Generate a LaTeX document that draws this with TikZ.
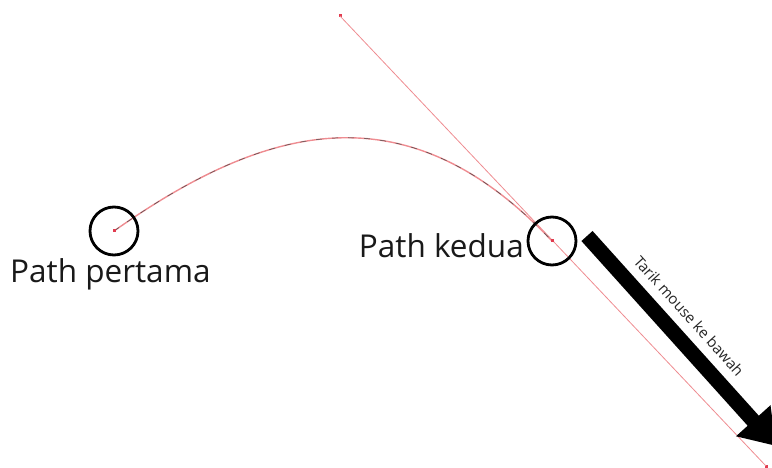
\documentclass[tikz,border=0pt]{standalone}
\usepackage{fontspec}
\setmainfont{Open Sans}
\usetikzlibrary{arrows.meta}
\definecolor{pinkline}{RGB}{238,140,145}
\definecolor{dotred}{RGB}{225,60,80}
\tikzset{
  handle/.style={draw=pinkline, line width=0.8pt},
  anchorpt/.style={fill=dotred, minimum size=3pt, inner sep=0pt, draw=none},
  ring/.style={circle, draw=black, line width=2.8pt, minimum size=48pt, inner sep=0pt},
  lbl/.style={font=\fontsize{31.5}{36}\selectfont, inner sep=0pt, text=black!90},
  bigarrow/.style={line width=15pt, -{Triangle[length=34pt,width=44pt]}},
}
\begin{document}
\begin{tikzpicture}[x=1pt,y=-1pt]
\useasboundingbox (0,0) rectangle (772,468);
% points
\coordinate (p1) at (114,231);
\coordinate (p2) at (552,241);
\coordinate (c1) at (262,127);
\coordinate (c2) at (404,84);
\node[anchorpt] (h1) at (340,16) {};
\node[anchorpt] (h2) at (766,466) {};
% handle line
\draw[handle] (h1.center) -- (h2.center);
% curve
\draw[pinkline, line width=1.4pt] (p1) .. controls (c1) and (c2) .. (p2);
\draw[black!70, line width=0.5pt, dash pattern=on 6pt off 10pt] (p1) .. controls (c1) and (c2) .. (p2);
\node[anchorpt] (a1) at (p1) {};
\node[anchorpt] (a2) at (p2) {};
% rings
\node[ring] (r1) at (p1) {};
\node[ring] (r2) at (p2) {};
% labels
\node[lbl, anchor=base west] (t1) at (10,283) {Path pertama};
\node[lbl, anchor=base east] (t2) at (524,258) {Path kedua};
% big arrow
\coordinate (s) at (587,236);
\coordinate (e) at (776,446);
\draw[bigarrow] (s) -- (e);
\node[font=\fontsize{15}{17}\selectfont, rotate=-48, inner sep=0pt, text=black!85] (t3) at (689,316) {Tarik mouse ke bawah};
\end{tikzpicture}
\end{document}
